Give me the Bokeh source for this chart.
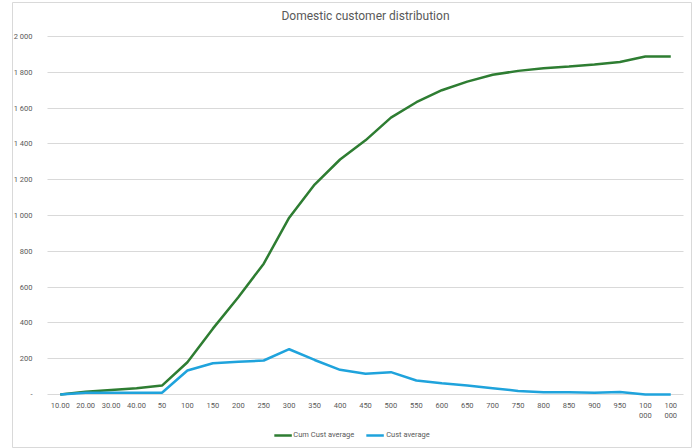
from bokeh.plotting import figure
from bokeh.models import Range1d, FixedTicker, Legend, LegendItem, ColumnDataSource, Label
from bokeh.embed import file_html
from bokeh.resources import INLINE

# Tariff bands (x axis) and the two series
categories = ["10.00", "20.00", "30.00", "40.00", "50", "100", "150", "200", "250", "300",
              "350", "400", "450", "500", "550", "600", "650", "700", "750", "800",
              "850", "900", "950", "100\n000", "100\n000"]
cum_cust_average = [0, 15, 25, 35, 50, 180, 368, 543, 731, 988,
                    1173, 1313, 1420, 1547, 1633, 1700, 1748, 1786, 1808, 1823,
                    1833, 1844, 1858, 1888, 1888]
cust_average = [0, 10, 10, 10, 10, 134, 175, 183, 190, 253,
                193, 138, 116, 125, 78, 63, 50, 35, 20, 13,
                13, 10, 14, 0, 0]
y_ticks = [0, 200, 400, 600, 800, 1000, 1200, 1400, 1600, 1800, 2000]

GREEN = "#2e7d32"
BLUE = "#1fa3dc"
GRAY_TEXT = "#595959"
GRID = "#d9d9d9"
FONT = "Roboto"

n = len(categories)
x = list(range(n))
src = ColumnDataSource(dict(x=x, cum=cum_cust_average, cust=cust_average))

# The frame doubles as the chart's outer border; the plotting area proper
# spans categories -0.5 .. n-0.5 and values 0 .. 2000 inside it.
p = figure(width=696, height=448, output_backend="svg", toolbar_location=None,
           x_range=Range1d(-1.876, n - 0.185), y_range=Range1d(-296, 2190),
           min_border_left=12, min_border_right=5, min_border_top=2, min_border_bottom=1)
p.title.visible = False
p.title.text = ""

p.outline_line_color = GRID
p.outline_line_width = 1
p.background_fill_color = "white"
p.border_fill_color = "white"

p.add_layout(Label(x=(n - 1) / 2, y=2112, text="Domestic customer distribution",
                   text_align="center", text_baseline="middle", text_font=FONT,
                   text_font_size="12px", text_color=GRAY_TEXT))

p.xgrid.grid_line_color = None
p.ygrid.grid_line_color = GRID
p.ygrid.ticker = FixedTicker(ticks=y_ticks[1:])
p.ygrid.cross_bounds = (-0.5, n - 0.5)

r_cum = p.line("x", "cum", source=src, line_color=GREEN, line_width=2.5)
r_cust = p.line("x", "cust", source=src, line_color=BLUE, line_width=2.5)

# y axis: space as thousands separator, dash for zero
p.yaxis.fixed_location = -0.5
p.yaxis.bounds = (0, 2000)
p.yaxis.ticker = FixedTicker(ticks=y_ticks)
p.yaxis.major_label_overrides = {t: ("-" if t == 0 else f"{t:,}".replace(",", " ")) for t in y_ticks}
p.yaxis.axis_line_color = None
p.yaxis.major_tick_line_color = None
p.yaxis.minor_tick_line_color = None
p.yaxis.major_label_text_font = FONT
p.yaxis.major_label_text_font_size = "7.5px"
p.yaxis.major_label_text_color = GRAY_TEXT
p.yaxis.major_label_standoff = 9

# x axis sits on the zero line, drawn underneath the series
p.xaxis.fixed_location = 0
p.xaxis.level = "underlay"
p.xaxis.bounds = (-0.5, n - 0.5)
p.xaxis.ticker = FixedTicker(ticks=x)
p.xaxis.major_label_overrides = {i: c for i, c in enumerate(categories)}
p.xaxis.axis_line_color = GRID
p.xaxis.major_tick_line_color = None
p.xaxis.minor_tick_line_color = None
p.xaxis.major_label_text_font = FONT
p.xaxis.major_label_text_font_size = "7.5px"
p.xaxis.major_label_text_color = GRAY_TEXT
p.xaxis.major_label_standoff = 0

legend = Legend(items=[LegendItem(label="Cum Cust average", renderers=[r_cum]),
                       LegendItem(label="Cust average", renderers=[r_cust])],
                orientation="horizontal", location="bottom_center",
                label_text_font=FONT, label_text_font_size="7.5px",
                label_text_color=GRAY_TEXT, glyph_width=18, glyph_height=8,
                label_standoff=2, spacing=12, padding=2, margin=8,
                border_line_color=None, background_fill_alpha=0)
p.add_layout(legend, "center")

open("out.html", "w").write(file_html(p, INLINE))
